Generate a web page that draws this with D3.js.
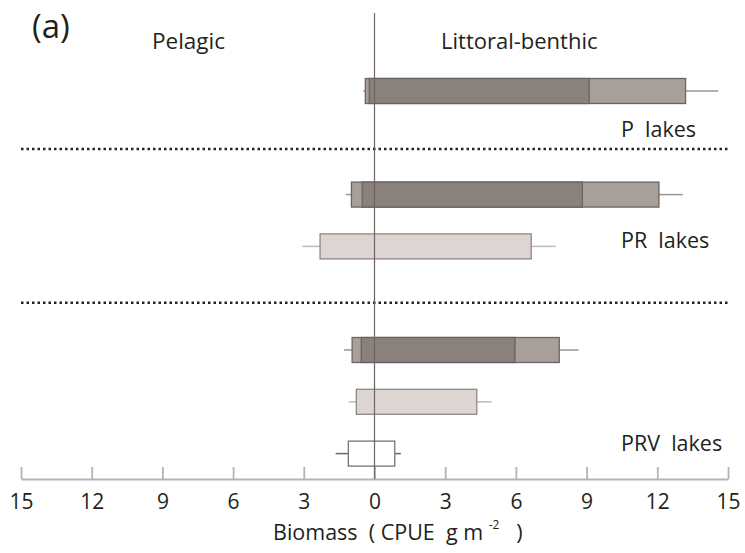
<!DOCTYPE html>
<html>
<head>
<meta charset="utf-8">
<script src="https://cdn.jsdelivr.net/npm/d3@7"></script>
<style>
  body { margin: 0; background: #fff; }
  svg text { font-family: "Open Sans", "Noto Sans", sans-serif; fill: #231f20; }
</style>
</head>
<body>
<div id="chart"></div>
<script>
// row slot (0 = top), values in CPUE g m-2 (negative = pelagic side)
var slots   = [0, 2, 3, 5, 6, 7];
var kinds   = ['main', 'main', 'alt', 'main', 'alt', 'third'];
var boxLo   = [-0.39, -0.98, -2.31, -0.95, -0.77, -1.11];
var boxHi   = [13.2, 12.07, 6.65, 7.84, 4.34, 0.86];
var whiskLo = [-0.48, -1.22, -3.06, -1.29, -1.09, -1.65];
var whiskHi = [14.59, 13.08, 7.69, 8.66, 4.97, 1.12];
var innerLo = [-0.22, -0.52, null, -0.56, null, null];
var innerHi = [9.11, 8.82, null, 5.96, null, null];

var groupLabels = ['P  lakes', 'PR  lakes', 'PRV  lakes'];
var groupSlots  = [0.89, 3.03, 6.95];
var separators  = [1.12, 4.09];

var tickVals = [-15, -12, -9, -6, -3, 0, 3, 6, 9, 12, 15];

var W = 745, H = 553;
var barH = 25;

var fills   = { main: '#a89e9a', alt: '#dcd5d1', third: '#ffffff' };
var strokes = { main: '#6e6561', alt: '#8f8784', third: '#7a7370' };
var whiskC  = { main: '#9c9696', alt: '#bdbbbb', third: '#6e6866' };

var svg = d3.select('#chart').append('svg')
    .attr('width', W)
    .attr('height', H);

var x = d3.scaleLinear().domain([-15, 15]).range([21, 728]);
var y = d3.scaleLinear().domain([0, 7]).range([91, 453.6]);

var rows = slots.map(function (s, i) {
    return {
        slot: s, kind: kinds[i],
        lo: boxLo[i], hi: boxHi[i],
        wlo: whiskLo[i], whi: whiskHi[i],
        ilo: innerLo[i], ihi: innerHi[i]
    };
});

// dotted separators
svg.selectAll('line.sep').data(separators).enter().append('line')
    .attr('class', 'sep')
    .attr('x1', x(-15)).attr('x2', x(15))
    .attr('y1', function (d) { return y(d); })
    .attr('y2', function (d) { return y(d); })
    .attr('stroke', '#222')
    .attr('stroke-width', 2.5)
    .attr('stroke-dasharray', '2.5 3');

// whiskers
var wg = svg.append('g');
rows.forEach(function (r) {
    wg.append('line')
        .attr('x1', x(r.wlo)).attr('x2', x(r.lo))
        .attr('y1', y(r.slot)).attr('y2', y(r.slot))
        .attr('stroke', whiskC[r.kind]).attr('stroke-width', 1.5);
    wg.append('line')
        .attr('x1', x(r.hi)).attr('x2', x(r.whi))
        .attr('y1', y(r.slot)).attr('y2', y(r.slot))
        .attr('stroke', whiskC[r.kind]).attr('stroke-width', 1.5);
});

// outer boxes
svg.selectAll('rect.box').data(rows).enter().append('rect')
    .attr('class', 'box')
    .attr('x', function (d) { return x(d.lo); })
    .attr('width', function (d) { return x(d.hi) - x(d.lo); })
    .attr('y', function (d) { return y(d.slot) - barH / 2; })
    .attr('height', barH)
    .attr('fill', function (d) { return fills[d.kind]; })
    .attr('stroke', function (d) { return strokes[d.kind]; })
    .attr('stroke-width', 1.3);

// inner (darker) boxes
svg.selectAll('rect.inner').data(rows.filter(function (d) { return d.ilo !== null; }))
    .enter().append('rect')
    .attr('class', 'inner')
    .attr('x', function (d) { return x(d.ilo); })
    .attr('width', function (d) { return x(d.ihi) - x(d.ilo); })
    .attr('y', function (d) { return y(d.slot) - barH / 2; })
    .attr('height', barH)
    .attr('fill', '#8a817c')
    .attr('stroke', '#6a625e')
    .attr('stroke-width', 1.3);

// axis
var axis = d3.axisBottom(x)
    .tickValues(tickVals)
    .tickFormat(function (d) { return Math.abs(d); })
    .tickSizeInner(-12)
    .tickSizeOuter(0)
    .tickPadding(15);

var ag = svg.append('g')
    .attr('transform', 'translate(0,479)')
    .call(axis);
ag.select('.domain').attr('stroke', '#b4b4b4').attr('stroke-width', 1.8);
ag.selectAll('.tick line').attr('stroke', '#b4b4b4').attr('stroke-width', 1.8);
ag.selectAll('.tick text')
    .attr('font-size', 21)
    .attr('font-family', '"Open Sans", sans-serif')
    .attr('fill', '#231f20');

// zero line
svg.append('line')
    .attr('x1', x(0)).attr('x2', x(0))
    .attr('y1', 13).attr('y2', 479)
    .attr('stroke', '#6d6461')
    .attr('stroke-width', 1.2);

// group labels
svg.selectAll('text.grp').data(groupLabels).enter().append('text')
    .attr('class', 'grp')
    .attr('x', 621)
    .attr('y', function (d, i) { return y(groupSlots[i]); })
    .attr('font-size', 21.5)
    .style('white-space', 'pre')
    .text(function (d) { return d; });

// headers
svg.append('text').attr('x', 32).attr('y', 38).attr('font-size', 33).text('(a)');
svg.append('text').attr('x', 152).attr('y', 49).attr('font-size', 22.5).text('Pelagic');
svg.append('text').attr('x', 441).attr('y', 49).attr('font-size', 22).text('Littoral-benthic');

// axis title
var t = svg.append('text')
    .attr('x', 273).attr('y', 540)
    .attr('font-size', 21.5)
    .style('white-space', 'pre');
t.append('tspan').text('Biomass  ( CPUE  g m ');
t.append('tspan').attr('dy', -11).attr('font-size', 12).text('-2');
t.append('tspan').attr('dy', 11).text('   )');
</script>
</body>
</html>
